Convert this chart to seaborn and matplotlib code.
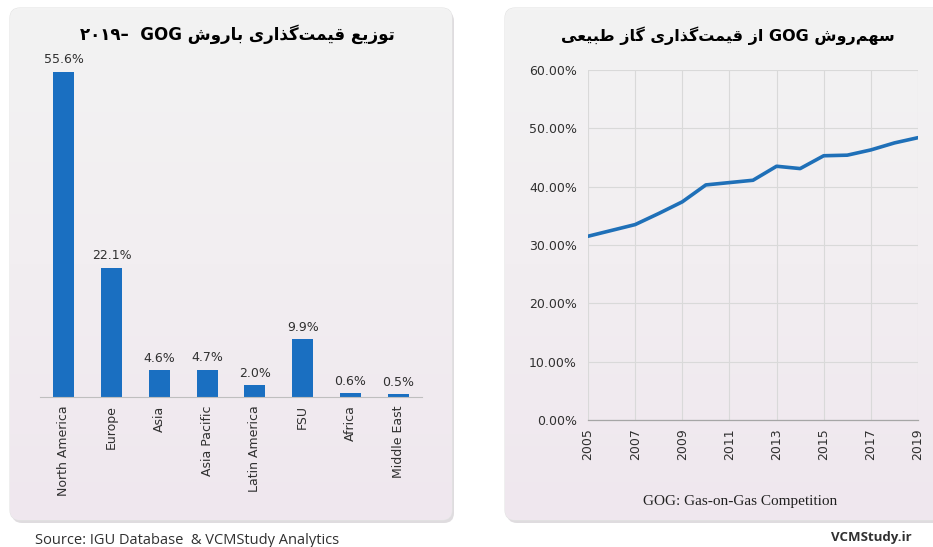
import numpy as np
import pandas as pd
import matplotlib
matplotlib.use("Agg")
import matplotlib.pyplot as plt
from matplotlib.patches import FancyBboxPatch
from matplotlib.ticker import FuncFormatter, FixedLocator
import seaborn as sns

# ---------------- data ----------------
regions = ["North America", "Europe", "Asia", "Asia Pacific", "Latin America",
           "FSU", "Africa", "Middle East"]
gog_share_2019 = [55.6, 22.1, 4.6, 4.7, 2.0, 9.9, 0.6, 0.5]

years = [2005, 2006, 2007, 2008, 2009, 2010, 2011, 2012, 2013, 2014, 2015,
         2016, 2017, 2018, 2019]
gog_share_world = [31.5, 32.5, 33.5, 35.4, 37.4, 40.3, 40.7, 41.1, 43.5, 43.1,
                   45.3, 45.4, 46.3, 47.5, 48.4]

year_ticks = [2005, 2007, 2009, 2011, 2013, 2015, 2017, 2019]
pct_ticks = [0, 10, 20, 30, 40, 50, 60]

# ---------------- simple Persian shaping (presentation forms) ----------------
FORMS = {
    "ت": ("\uFE95", "\uFE96", "\uFE97", "\uFE98"),
    "ب": ("\uFE8F", "\uFE90", "\uFE91", "\uFE92"),
    "ع": ("\uFEC9", "\uFECA", "\uFECB", "\uFECC"),
    "ق": ("\uFED5", "\uFED6", "\uFED7", "\uFED8"),
    "م": ("\uFEE1", "\uFEE2", "\uFEE3", "\uFEE4"),
    "ش": ("\uFEB5", "\uFEB6", "\uFEB7", "\uFEB8"),
    "س": ("\uFEB1", "\uFEB2", "\uFEB3", "\uFEB4"),
    "ه": ("\uFEE9", "\uFEEA", "\uFEEB", "\uFEEC"),
    "ط": ("\uFEC1", "\uFEC2", "\uFEC3", "\uFEC4"),
    "ل": ("\uFEDD", "\uFEDE", "\uFEDF", "\uFEE0"),
    "گ": ("\uFB92", "\uFB93", "\uFB94", "\uFB95"),
    "ی": ("\uFBFC", "\uFBFD", "\uFBFE", "\uFBFF"),
    "و": ("\uFEED", "\uFEEE"),
    "ز": ("\uFEAF", "\uFEB0"),
    "ذ": ("\uFEAB", "\uFEAC"),
    "ا": ("\uFE8D", "\uFE8E"),
    "ر": ("\uFEAD", "\uFEAE"),
}


def fa(word):
    chars = list(word)
    out = []
    for i, c in enumerate(chars):
        if c not in FORMS:
            if c != "\u200c":
                out.append(c)
            continue
        f = FORMS[c]
        prev = chars[i - 1] if i > 0 else None
        nxt = chars[i + 1] if i + 1 < len(chars) else None
        pj = prev in FORMS and len(FORMS[prev]) == 4
        nj = nxt in FORMS and len(f) == 4
        if pj and nj:
            out.append(f[3])
        elif pj:
            out.append(f[1])
        elif nj:
            out.append(f[2])
        else:
            out.append(f[0])
    return "".join(out[::-1])


title_left = " ".join(["۲۰۱۹–", " GOG", fa("باروش"), fa("قیمت\u200cگذاری"), fa("توزیع")])
title_right = " ".join([fa("طبیعی"), fa("گاز"), fa("قیمت\u200cگذاری"), fa("از"), "GOG",
                        fa("سهم\u200cروش")])

# ---------------- styling ----------------
sns.set_theme(style="white")
plt.rcParams["font.family"] = ["DejaVu Sans"]

W, H = 933, 547
fig = plt.figure(figsize=(W / 100, H / 100), dpi=100)
fig.patch.set_facecolor("white")


def rect(x0, y0, x1, y1):
    return [x0 / W, 1 - y1 / H, (x1 - x0) / W, (y1 - y0) / H]


# background panels
bg = fig.add_axes([0, 0, 1, 1], zorder=-10)
bg.set_xlim(0, W)
bg.set_ylim(H, 0)
bg.axis("off")
grad = np.linspace(0, 1, 256)[:, None]
cmap = matplotlib.colors.LinearSegmentedColormap.from_list(
    "panel", ["#F3F3F3", "#F2EEF1", "#EFE7EE"])
for (x0, y0, x1, y1) in [(10, 8, 452, 520), (505, 8, 945, 520)]:
    sh = FancyBboxPatch((x0 + 2, y0 + 3), x1 - x0, y1 - y0,
                        boxstyle="round,pad=0,rounding_size=10",
                        fc="#D8D4D8", ec="none", alpha=0.8)
    bg.add_patch(sh)
    p = FancyBboxPatch((x0, y0), x1 - x0, y1 - y0,
                       boxstyle="round,pad=0,rounding_size=10",
                       fc="#F2F2F2", ec="#E4E4E4", lw=0.8)
    bg.add_patch(p)
    im = bg.imshow(grad, extent=(x0, x1, y1, y0), cmap=cmap, aspect="auto",
                   zorder=2)
    im.set_clip_path(p)

# ---------------- left: bar chart ----------------
axb = fig.add_axes(rect(40, 55, 422, 397))
axb.set_facecolor("none")
df_bar = pd.DataFrame({"region": regions, "share": gog_share_2019})
sns.barplot(data=df_bar, x="region", y="share", color="#1A6FC1", saturation=1,
            width=0.44, edgecolor="none", linewidth=0, ax=axb)
axb.bar_label(axb.containers[0], fmt="{:.1f}%", padding=4, fontsize=9,
              color="#303030")
axb.set_xlim(-0.5, len(regions) - 0.5)
axb.set_ylim(0, 58.5)
axb.set_xlabel("")
axb.set_ylabel("")
axb.set_yticks([])
for s in ["left", "right", "top"]:
    axb.spines[s].set_visible(False)
axb.spines["bottom"].set_color("#BFBFBF")
axb.spines["bottom"].set_linewidth(0.8)
axb.tick_params(axis="x", which="major", length=0, pad=6, labelsize=9,
                labelcolor="#303030", rotation=90)
axb.xaxis.set_minor_locator(FixedLocator(np.arange(-0.5, len(regions), 1.0)))
axb.tick_params(axis="x", which="minor", length=4, color="#BFBFBF", width=0.8,
                direction="out")

# ---------------- right: line chart ----------------
axl = fig.add_axes(rect(588, 70, 918, 420))
axl.set_facecolor("none")
df_line = pd.DataFrame({"year": years, "share": gog_share_world})
sns.lineplot(data=df_line, x="year", y="share", color="#1F70B8", linewidth=2.6,
             ax=axl)
axl.set_xlim(2005, 2019)
axl.set_ylim(0, 60)
axl.set_xticks(year_ticks)
axl.set_yticks(pct_ticks)
axl.yaxis.set_major_formatter(FuncFormatter(lambda v, _: f"{v:.2f}%"))
axl.grid(True, color="#D9D9D9", linewidth=0.8)
axl.set_axisbelow(True)
axl.set_xlabel("")
axl.set_ylabel("")
for s in ["left", "right", "top"]:
    axl.spines[s].set_visible(False)
axl.spines["bottom"].set_color("#A6A6A6")
axl.spines["bottom"].set_linewidth(0.9)
axl.tick_params(axis="x", length=4, color="#A6A6A6", labelsize=9,
                labelcolor="#303030", rotation=90, pad=2)
axl.tick_params(axis="y", length=0, labelsize=9, labelcolor="#303030", pad=8)

# ---------------- texts ----------------
fig.text(237 / W, 1 - 34 / H, title_left, ha="center", va="center",
         fontsize=12, fontweight="bold", color="black")
fig.text(728 / W, 1 - 36 / H, title_right, ha="center", va="center",
         fontsize=11.5, fontweight="bold", color="black")
fig.text(740 / W, 1 - 502 / H, "GOG: Gas-on-Gas Competition", ha="center",
         va="center", fontsize=11, family=["Liberation Serif"], color="#202020")
fig.text(35 / W, 1 - 541 / H, "Source: IGU Database  & VCMStudy Analytics",
         ha="left", va="center", fontsize=10.5, family=["Open Sans"],
         color="#303030")
fig.text(912 / W, 1 - 537 / H, "VCMStudy.ir", ha="right", va="center",
         fontsize=9.5, fontweight="bold", family=["Open Sans"], color="#303030")

fig.savefig("out.png", dpi=100, facecolor="white")
